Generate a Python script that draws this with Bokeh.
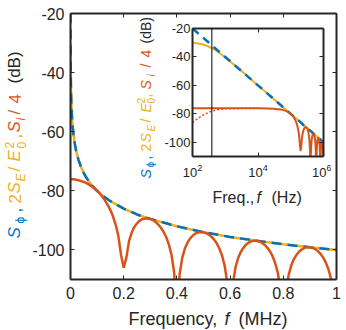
import math
from bokeh.plotting import figure
from bokeh.models import (FixedTicker, LinearAxis, LogAxis, Label, Span, Range1d,
                          CustomJSTickFormatter)
from bokeh.embed import file_html
from bokeh.resources import INLINE

# ---------------- data ----------------
# S_phi (blue, dashed) and 2 S_E / E0^2 (yellow, solid)
freq_phi_mhz = [0.0001, 0.00015, 0.0002, 0.0003, 0.0004, 0.0005, 0.0007, 0.001, 0.0015,
                0.002, 0.003, 0.005, 0.007, 0.01, 0.015, 0.02, 0.03, 0.04, 0.05, 0.06,
                0.07, 0.08, 0.1, 0.12, 0.15, 0.2, 0.25, 0.3, 0.4, 0.5, 0.6, 0.7, 0.8,
                0.9, 1.0]
s_phi_db = [-20.0, -23.5, -26.0, -29.5, -32.0, -34.0, -36.9, -40.0, -43.5,
            -46.0, -49.5, -54.0, -56.9, -60.0, -63.5, -66.0, -69.5, -72.0, -74.0, -75.6,
            -76.9, -78.1, -80.0, -81.6, -83.5, -86.0, -88.0, -89.5, -92.0, -94.0, -95.6,
            -96.9, -98.1, -99.1, -100.0]
s_e_db = [-30.0, -30.5, -31.1, -32.5, -34.0, -35.3, -37.6, -40.4, -43.7,
          -46.1, -49.6, -54.0, -56.9, -60.0, -63.5, -66.0, -69.5, -72.0, -74.0, -75.6,
          -76.9, -78.1, -80.0, -81.6, -83.5, -86.0, -88.0, -89.5, -92.0, -94.0, -95.6,
          -96.9, -98.1, -99.1, -100.0]

# S_i / 4 (red, solid)
freq_i_mhz = [0.0001, 0.0002, 0.0005, 0.001, 0.002, 0.005,
              0.01, 0.02, 0.03, 0.04, 0.05, 0.06, 0.07, 0.08, 0.09, 0.10,
              0.11, 0.12, 0.13, 0.14, 0.15, 0.16, 0.17, 0.18, 0.19, 0.20,
              0.21, 0.22, 0.23, 0.24, 0.25, 0.26, 0.27, 0.28, 0.29, 0.30,
              0.31, 0.32, 0.33, 0.34, 0.35, 0.36, 0.37, 0.38, 0.39, 0.40,
              0.41, 0.42, 0.43, 0.44, 0.45, 0.46, 0.47, 0.48, 0.49, 0.50,
              0.51, 0.52, 0.53, 0.54, 0.55, 0.56, 0.57, 0.58, 0.59, 0.60,
              0.61, 0.62, 0.63, 0.64, 0.65, 0.66, 0.67, 0.68, 0.69, 0.70,
              0.71, 0.72, 0.73, 0.74, 0.75, 0.76, 0.77, 0.78, 0.79, 0.80,
              0.81, 0.82, 0.83, 0.84, 0.85, 0.86, 0.87, 0.88, 0.89, 0.90,
              0.91, 0.92, 0.93, 0.94, 0.95, 0.96, 0.97, 0.98, 0.99, 1.00]
s_i_db = [-76.1, -76.1, -76.1, -76.1, -76.1, -76.1,
          -76.1, -76.2, -76.4, -76.7, -77.0, -77.4, -77.9, -78.5, -79.2, -80.0,
          -80.9, -82.0, -83.3, -84.8, -86.5, -88.7, -91.5, -95.3, -101.7, -106.0,
          -102.6, -97.0, -94.1, -92.2, -91.0, -90.1, -89.6, -89.4, -89.4, -89.5,
          -89.9, -90.5, -91.4, -92.5, -93.9, -95.7, -98.2, -101.8, -107.9, -125.0,
          -108.4, -102.7, -99.5, -97.5, -96.1, -95.1, -94.4, -94.1, -93.9, -94.0,
          -94.3, -94.8, -95.5, -96.5, -97.8, -99.6, -102.0, -105.5, -111.5, -125.0,
          -111.8, -106.0, -102.8, -100.7, -99.3, -98.2, -97.5, -97.1, -96.9, -96.9,
          -97.1, -97.6, -98.3, -99.2, -100.5, -102.2, -104.6, -108.0, -114.1, -125.0,
          -114.3, -108.5, -105.2, -103.1, -101.6, -100.5, -99.8, -99.3, -99.1, -99.1,
          -99.3, -99.7, -100.4, -101.3, -102.6, -104.3, -106.6, -110.0, -116.0, -125.0]

# S_i / 4 computed from the field spectrum (red, dotted, inset only)
freq_ie_hz = [100, 150, 200, 300, 400, 500, 700, 1000, 2000, 5000, 10000]
s_ie_db = [-86.1, -83.1, -81.2, -79.1, -78.0, -77.4, -76.8, -76.5, -76.2, -76.1, -76.1]

marker_freq_hz = 390

x_ticks = [0, 0.2, 0.4, 0.6, 0.8, 1.0]
x_tick_labels = ["0", "0.2", "0.4", "0.6", "0.8", "1"]
y_ticks = [-100, -80, -60, -40, -20]
y_tick_labels = ["-100", "-80", "-60", "-40", "-20"]
inset_x_ticks = [1e2, 1e4, 1e6]

# ---------------- style ----------------
BLUE = "#0072BD"
RED = "#D95319"
YELLOW = "#EDB120"
INK = "#262626"
FONT = "Liberation Sans"


def style_axis(ax, size, standoff):
    ax.axis_line_width = 2
    ax.axis_line_color = INK
    ax.major_tick_in = 4
    ax.major_tick_out = 0
    ax.minor_tick_in = 0
    ax.minor_tick_out = 0
    ax.major_tick_line_color = INK
    ax.major_tick_line_width = 1
    ax.major_label_text_font = FONT
    ax.major_label_text_font_size = size
    ax.major_label_text_color = INK
    ax.major_label_standoff = standoff


def blank_axis(cls, ticks):
    ax = cls(ticker=FixedTicker(ticks=ticks),
             formatter=CustomJSTickFormatter(code="return ''"))
    style_axis(ax, "0px", 0)
    ax.axis_label_standoff = 0
    return ax


# ---------------- main plot ----------------
p = figure(frame_width=266, frame_height=266, output_backend="svg", toolbar_location=None,
           x_range=Range1d(0, 1), y_range=Range1d(-110, -20),
           min_border_left=70, min_border_right=8, min_border_top=13, min_border_bottom=50)
p.grid.visible = False
p.outline_line_color = None
p.background_fill_color = "white"
p.border_fill_color = "white"

p.xaxis.ticker = FixedTicker(ticks=x_ticks)
p.xaxis.major_label_overrides = dict(zip(x_ticks, x_tick_labels))
p.yaxis.ticker = FixedTicker(ticks=y_ticks)
p.yaxis.major_label_overrides = dict(zip(y_ticks, y_tick_labels))
style_axis(p.xaxis[0], "16px", 7)
style_axis(p.yaxis[0], "16px", 6)
p.add_layout(blank_axis(LinearAxis, x_ticks), "above")
p.add_layout(blank_axis(LinearAxis, y_ticks), "right")

p.line(freq_phi_mhz, s_e_db, line_color=YELLOW, line_width=2.5)
p.line(freq_phi_mhz, s_phi_db, line_color=BLUE, line_width=2.5, line_dash="10 6")
p.line(freq_i_mhz, s_i_db, line_color=RED, line_width=2.5)

# ---------------- inset ----------------
pin = figure(frame_width=131, frame_height=128, output_backend="svg", toolbar_location=None,
             x_axis_type="log", x_range=Range1d(1e2, 1e6), y_range=Range1d(-110, -20),
             min_border_left=57, min_border_right=8, min_border_top=14, min_border_bottom=25)
pin.grid.visible = False
pin.outline_line_color = None
pin.background_fill_color = "white"
pin.border_fill_alpha = 0
pin.xaxis.ticker = FixedTicker(ticks=inset_x_ticks)
pin.yaxis.ticker = FixedTicker(ticks=y_ticks)
pin.yaxis.major_label_overrides = dict(zip(y_ticks, y_tick_labels))
style_axis(pin.xaxis[0], "13px", 7)
style_axis(pin.yaxis[0], "13px", 2)
pin.add_layout(blank_axis(LogAxis, inset_x_ticks), "above")
pin.add_layout(blank_axis(LinearAxis, y_ticks), "right")

pin.add_layout(Span(location=marker_freq_hz, dimension="height", line_color="black",
                    line_width=1))
freq_phi_hz = [f * 1e6 for f in freq_phi_mhz]
freq_i_hz = [f * 1e6 for f in freq_i_mhz]
pin.line(freq_phi_hz, s_e_db, line_color=YELLOW, line_width=2)
pin.line(freq_phi_hz, s_phi_db, line_color=BLUE, line_width=2.5, line_dash="8 6")
pin.line(freq_ie_hz, s_ie_db, line_color=RED, line_width=1.5, line_dash="2 2")
pin.line(freq_i_hz, s_i_db, line_color=RED, line_width=2)
pin.styles = {"position": "absolute", "left": "135px", "top": "14px", "z-index": "5"}

# ---------------- text overlay (page-pixel coordinates) ----------------
ann = figure(width=346, height=330, output_backend="svg", toolbar_location=None,
             x_range=Range1d(0, 346), y_range=Range1d(330, 0),
             x_axis_location=None, y_axis_location=None,
             min_border=0, min_border_left=0, min_border_right=0,
             min_border_top=0, min_border_bottom=0)
ann.grid.visible = False
ann.outline_line_color = None
ann.background_fill_alpha = 0
ann.border_fill_alpha = 0
ann.styles = {"position": "absolute", "left": "0px", "top": "0px", "z-index": "10",
              "pointer-events": "none"}

BASELINE_SHIFT = 0.35  # em: measured offset of the rendered alphabetic baseline


def add_text(px, py, text, color, size, italic=False, angle=0.0):
    if angle:
        px -= BASELINE_SHIFT * size
    else:
        py -= BASELINE_SHIFT * size
    ann.add_layout(Label(x=px, y=py, text=text, angle=angle, text_align="left",
                         text_baseline="alphabetic", text_color=color, text_font=FONT,
                         text_font_size=f"{size}px",
                         text_font_style="italic" if italic else "normal"))


V = math.pi / 2
main_ylabel = [
    ("S", BLUE, 17, True, 20, 238), ("\u03d5", BLUE, 12, False, 24, 223),
    (",", BLUE, 17, False, 20, 212),
    ("2", YELLOW, 17, False, 20, 203), ("S", YELLOW, 17, True, 20, 193),
    ("E", YELLOW, 12, True, 25, 181), ("/", YELLOW, 17, False, 20, 171),
    ("E", YELLOW, 17, True, 20, 161), ("2", YELLOW, 12, False, 13, 148),
    ("0", YELLOW, 12, False, 25, 148), (",", YELLOW, 17, False, 20, 138),
    ("S", RED, 17, True, 20, 132), ("i", RED, 12, True, 25, 120),
    ("/", RED, 17, False, 20, 114), ("4", RED, 17, False, 20, 103),
    ("(dB)", INK, 17, False, 20, 83),
]
inset_ylabel = [
    ("S", BLUE, 14, True, 150, 178), ("\u03d5", BLUE, 10, False, 153, 167),
    (",", BLUE, 14, False, 150, 159),
    ("2", YELLOW, 14, False, 150, 151), ("S", YELLOW, 14, True, 150, 142),
    ("E", YELLOW, 10, True, 154, 131), ("/", YELLOW, 14, False, 150, 122),
    ("E", YELLOW, 14, True, 150, 112), ("2", YELLOW, 10, False, 144, 103),
    ("0", YELLOW, 10, False, 154, 103), (",", YELLOW, 14, False, 150, 97),
    ("S", RED, 14, True, 150, 89), ("i", RED, 10, True, 154, 76),
    ("/", RED, 14, False, 150, 67), ("4", RED, 14, False, 150, 57),
    ("(dB)", INK, 14, False, 150, 43),
]
for t, c, s, it, px, py in main_ylabel + inset_ylabel:
    add_text(px, py, t, c, s, it, V)

add_text(128, 325, "Frequency,", INK, 18)
add_text(224, 325, "f", INK, 18, True)
add_text(238, 325, "(MHz)", INK, 18)

add_text(212, 203, "Freq.,", INK, 16)
add_text(256, 203, "f", INK, 16, True)
add_text(271, 203, "(Hz)", INK, 16)

open("out.html", "w").write(file_html([p, pin, ann], INLINE))
